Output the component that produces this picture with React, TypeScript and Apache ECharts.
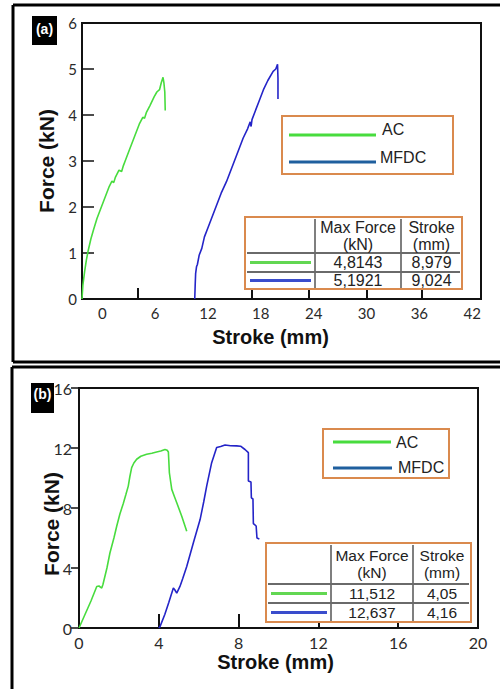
import React, { useEffect, useRef } from "react";
import * as echarts from "echarts";

// ---------- data ----------
// Panel (a)
const aAcStroke = [-2.3, -2.2, -2.0, -1.8, -1.6, -1.3, -1.0, -0.6, -0.2, 0.3, 0.8, 1.1, 1.3, 1.5, 1.9, 2.2, 2.4, 2.6, 3.0, 3.6, 4.2, 4.6, 4.8, 5.0, 5.4, 5.9, 6.2, 6.5, 6.7, 6.9, 7.0, 7.1, 7.15];
const aAcForce = [0, 0.3, 0.6, 0.85, 1.05, 1.3, 1.5, 1.75, 1.95, 2.2, 2.45, 2.56, 2.53, 2.65, 2.8, 2.77, 2.9, 3.0, 3.2, 3.5, 3.8, 3.95, 3.93, 4.05, 4.2, 4.4, 4.5, 4.55, 4.7, 4.82, 4.7, 4.5, 4.1];
const aMfStroke = [10.5, 10.55, 10.6, 10.7, 10.8, 11.0, 11.3, 11.6, 12.0, 12.5, 13.0, 13.5, 14.1, 14.6, 15.1, 15.6, 16.0, 16.5, 16.8, 16.9, 17.0, 17.3, 17.8, 18.3, 18.8, 19.4, 19.7, 19.9, 19.95, 19.95];
const aMfForce = [0, 0.3, 0.55, 0.7, 0.75, 0.95, 1.1, 1.35, 1.55, 1.8, 2.05, 2.3, 2.55, 2.8, 3.05, 3.3, 3.5, 3.7, 3.85, 3.75, 3.9, 4.05, 4.3, 4.55, 4.75, 4.95, 5.0, 5.1, 4.8, 4.35];
const aXLabels = [0, 6, 12, 18, 24, 30, 36, 42];
const aXTicks = [4, 17, 23.5, 30, 36.3];
const aTable = [["4,8143", "8,979"], ["5,1921", "9,024"]];

// Panel (b)
const bAcStroke = [0, 0.3, 0.6, 0.89, 1.0, 1.14, 1.2, 1.4, 1.55, 1.75, 1.89, 2.05, 2.22, 2.35, 2.47, 2.55, 2.64, 2.75, 2.89, 3.1, 3.39, 3.65, 3.89, 4.1, 4.31, 4.42, 4.48, 4.5, 4.53, 4.6, 4.65, 4.8, 4.9, 5.15, 5.4];
const bAcForce = [0, 0.9, 1.8, 2.77, 2.8, 2.66, 2.9, 4.0, 5.0, 6.0, 6.78, 7.6, 8.3, 8.9, 9.46, 10.1, 10.69, 11.0, 11.25, 11.45, 11.58, 11.65, 11.73, 11.8, 11.9, 11.85, 11.73, 11.2, 10.35, 9.7, 9.24, 8.7, 8.35, 7.45, 6.45];
const bMfStroke = [4.0, 4.06, 4.3, 4.5, 4.73, 4.8, 4.9, 5.06, 5.2, 5.4, 5.73, 6.07, 6.25, 6.4, 6.65, 6.9, 7.1, 7.32, 7.6, 7.9, 8.1, 8.32, 8.49, 8.49, 8.62, 8.64, 8.72, 8.74, 8.88, 8.92, 9.04];
const bMfForce = [0, 0.09, 0.9, 1.7, 2.66, 2.55, 2.32, 2.77, 3.3, 4.1, 5.67, 7.23, 8.4, 9.46, 11.02, 12.03, 12.1, 12.2, 12.15, 12.14, 12.12, 11.9, 11.69, 9.8, 9.73, 8.68, 8.6, 6.96, 6.8, 6.0, 5.94];
const bXTicks = [4, 8, 12, 16];
const bTable = [["11,512", "4,05"], ["12,637", "4,16"]];

const seriesNames = ["AC", "MFDC"];
const xName = "Stroke (mm)";
const yName = "Force (kN)";

// ---------- styles ----------
const GREEN = "#48dc3e";
const BLUE = "#2424c8";
const LEG_BLUE = "#1f5f9e";
const TAB_GREEN = "#62d752";
const TAB_BLUE = "#3a4dcc";
const ORANGE = "#da8a4e";
const GRID_LINE = "#555";
const NUM_FONT = "Lato, 'Open Sans', sans-serif";
const TXT_FONT = "'Liberation Sans', Arial, sans-serif";

const zip = (xs: number[], ys: number[]) => xs.map((x, i) => [x, ys[i]]);

function txt(x: number, y: number, text: string, size: number, opts: any = {}) {
  return {
    type: "text",
    x,
    y,
    z: 110,
    rotation: opts.rotation || 0,
    style: {
      text,
      fill: opts.fill || "#222",
      fontSize: size,
      fontFamily: opts.family || TXT_FONT,
      fontWeight: opts.weight || "normal",
      align: opts.align || "center",
      verticalAlign: "middle",
      textAlign: opts.align || "center",
      textVerticalAlign: "middle",
    },
  };
}
function rect(x: number, y: number, w: number, h: number, fill: string, stroke?: string, lw = 2) {
  return {
    type: "rect",
    z: 100,
    shape: { x, y, width: w, height: h },
    style: { fill, stroke: stroke || "none", lineWidth: lw },
  };
}
function ln(x1: number, y1: number, x2: number, y2: number, color: string, lw = 2) {
  return {
    type: "line",
    z: 105,
    shape: { x1, y1, x2, y2 },
    style: { stroke: color, lineWidth: lw },
  };
}

function legendBox(x: number, y: number, w: number, h: number, l1: [number, number, number], t1: [number, number], l2: [number, number, number], t2: [number, number]) {
  return [
    rect(x, y, w, h, "#fff", ORANGE, 2),
    ln(l1[0], l1[2], l1[1], l1[2], GREEN, 3),
    txt(t1[0], t1[1], seriesNames[0], 16, { align: "left" }),
    ln(l2[0], l2[2], l2[1], l2[2], LEG_BLUE, 3),
    txt(t2[0], t2[1], seriesNames[1], 16, { align: "left" }),
  ];
}

function tableBox(x1: number, y1: number, x2: number, y2: number, c1: number, c2: number, r1: number, r2: number, rows: string[][], fs: number) {
  const m1 = (c1 + c2) / 2;
  const m2 = (c2 + x2) / 2;
  const hy = (y1 + r1) / 2;
  const row1 = (r1 + r2) / 2;
  const row2 = (r2 + y2) / 2;
  return [
    rect(x1, y1, x2 - x1, y2 - y1, "#fff", ORANGE, 2),
    ln(c1, y1 + 2, c1, y2 - 1, GRID_LINE, 1.5),
    ln(c2, y1 + 2, c2, y2 - 1, GRID_LINE, 1.5),
    ln(x1 + 2, r1, x2 - 2, r1, "#6a6a6a", 2),
    ln(x1 + 2, r2, x2 - 2, r2, "#6a6a6a", 2),
    txt(m1, hy - 8, "Max Force", fs),
    txt(m1, hy + 9, "(kN)", fs),
    txt(m2, hy - 8, "Stroke", fs),
    txt(m2, hy + 9, "(mm)", fs),
    ln(x1 + 5, row1, c1 - 4, row1, TAB_GREEN, 3),
    ln(x1 + 5, row2, c1 - 4, row2, TAB_BLUE, 3),
    txt(m1, row1, rows[0][0], fs),
    txt(m2, row1, rows[0][1], fs),
    txt(m1, row2, rows[1][0], fs),
    txt(m2, row2, rows[1][1], fs),
  ];
}

export default function App() {
  const ref = useRef<HTMLDivElement>(null);
  useEffect(() => {
    if (!ref.current) return;
    const chart = echarts.init(ref.current, undefined, { renderer: "svg" });
    const axisLineStyle = { onZero: false, lineStyle: { color: "#111", width: 2 } };
    const numLabel = (size: number) => ({ color: "#2a2a2a", fontSize: size, fontFamily: NUM_FONT });
    const nameStyle = (size: number, padding?: number[]) => ({
      color: "#111",
      fontSize: size,
      fontWeight: "bold",
      fontFamily: TXT_FONT,
      padding: padding || [0, 0, 0, 0],
    });
    const option: any = {
      animation: false,
      backgroundColor: "#fff",
      grid: [
        { left: 82, top: 23, width: 399, height: 276, show: true, borderColor: "#111", borderWidth: 2, backgroundColor: "transparent" },
        { left: 79, top: 388, width: 399, height: 240, show: true, borderColor: "#111", borderWidth: 2, backgroundColor: "transparent" },
      ],
      xAxis: [
        {
          type: "value",
          gridIndex: 0,
          min: -2.3,
          max: 43,
          name: xName,
          nameLocation: "middle",
          nameGap: 28,
          nameTextStyle: nameStyle(20, [0, 22, 0, 0]),
          axisLine: axisLineStyle,
          axisTick: { show: true, inside: true, length: 11, customValues: aXTicks, lineStyle: { color: "#111", width: 2 } },
          axisLabel: { ...numLabel(15), margin: 6, customValues: aXLabels, showMinLabel: true, showMaxLabel: true },
          splitLine: { show: false },
        },
        {
          type: "value",
          gridIndex: 1,
          min: 0,
          max: 20,
          interval: 4,
          name: xName,
          nameLocation: "middle",
          nameGap: 24,
          nameTextStyle: nameStyle(20, [0, 6, 0, 0]),
          axisLine: axisLineStyle,
          axisTick: { show: true, inside: true, length: 14, customValues: bXTicks, lineStyle: { color: "#111", width: 2 } },
          axisLabel: { ...numLabel(16), margin: 6 },
          splitLine: { show: false },
        },
      ],
      yAxis: [
        {
          type: "value",
          gridIndex: 0,
          min: 0,
          max: 6,
          interval: 1,
          name: yName,
          nameLocation: "middle",
          nameRotate: 90,
          nameGap: 25,
          nameTextStyle: nameStyle(21),
          axisLine: axisLineStyle,
          axisTick: { show: true, inside: true, length: 12, lineStyle: { color: "#111", width: 1.5 } },
          axisLabel: { ...numLabel(15), margin: 5 },
          splitLine: { show: false },
        },
        {
          type: "value",
          gridIndex: 1,
          min: 0,
          max: 16,
          interval: 4,
          axisLine: axisLineStyle,
          axisTick: { show: true, inside: false, length: 8, lineStyle: { color: "#111", width: 1.5 } },
          axisLabel: { ...numLabel(16), margin: 7 },
          splitLine: { show: false },
        },
      ],
      series: [
        { name: seriesNames[0], type: "line", xAxisIndex: 0, yAxisIndex: 0, data: zip(aAcStroke, aAcForce), showSymbol: false, lineStyle: { color: GREEN, width: 1.6 }, itemStyle: { color: GREEN } },
        { name: seriesNames[1], type: "line", xAxisIndex: 0, yAxisIndex: 0, data: zip(aMfStroke, aMfForce), showSymbol: false, lineStyle: { color: BLUE, width: 1.6 }, itemStyle: { color: BLUE } },
        { name: seriesNames[0], type: "line", xAxisIndex: 1, yAxisIndex: 1, data: zip(bAcStroke, bAcForce), showSymbol: false, lineStyle: { color: GREEN, width: 1.6 }, itemStyle: { color: GREEN } },
        { name: seriesNames[1], type: "line", xAxisIndex: 1, yAxisIndex: 1, data: zip(bMfStroke, bMfForce), showSymbol: false, lineStyle: { color: BLUE, width: 1.6 }, itemStyle: { color: BLUE } },
      ],
      graphic: [
        // panel frames
        ln(13, 5, 500, 5, "#000", 3),
        ln(13, 5, 13, 362, "#000", 3),
        ln(13, 362, 500, 362, "#000", 3),
        ln(12, 367, 500, 367, "#000", 3),
        ln(12, 367, 12, 689, "#000", 3),
        // panel labels
        rect(32, 16, 25, 29, "#000"),
        txt(44.5, 29, "(a)", 14, { fill: "#fff", weight: "bold" }),
        rect(31, 383, 23, 30, "#000"),
        txt(42.5, 394, "(b)", 14, { fill: "#fff", weight: "bold" }),
        // panel (b) y-axis title
        txt(51, 524, yName, 21, { fill: "#111", weight: "bold", rotation: Math.PI / 2 }),
        // legends
        ...legendBox(282, 116, 171, 58, [289, 376, 135], [382, 129], [289, 376, 162], [380, 157]),
        ...legendBox(323, 429, 126, 49, [333, 391, 442], [396, 442], [333, 392, 468], [398, 467]),
        // tables
        ...tableBox(245, 217, 462, 289, 315, 401, 253, 272, aTable, 16),
        ...tableBox(266, 543, 471, 622, 331, 413, 584, 603, bTable, 15.5),
      ],
    };
    chart.setOption(option);
    return () => chart.dispose();
  }, []);
  return <div ref={ref} style={{ position: "fixed", left: 0, top: 0, width: 500, height: 689 }} />;
}
